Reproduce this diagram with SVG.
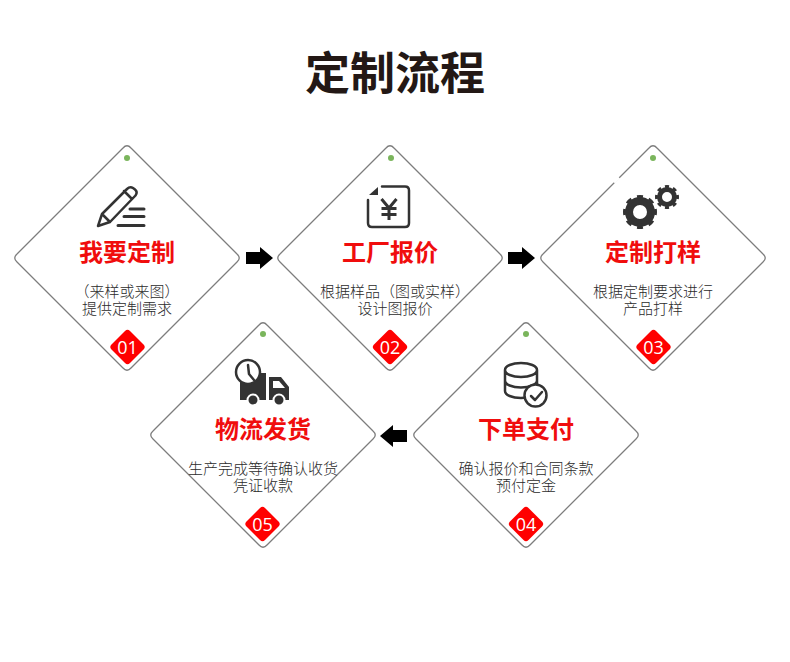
<svg xmlns="http://www.w3.org/2000/svg" width="790" height="662" viewBox="0 0 790 662">
<style>
text{font-family:"Noto Sans CJK SC","Noto Sans",sans-serif;text-anchor:middle}
.h{font-size:45px;font-weight:700;fill:#231815}
.t{font-size:24px;font-weight:700;fill:#f00d0d}
.b{font-size:15px;font-weight:300;fill:#2b2b2b}
.n{font-size:18px;fill:#fff;font-family:"Open Sans","Noto Sans",sans-serif}
.d{fill:#fff;stroke:#7d7d7d;stroke-width:1.3}
.i{fill:none;stroke:#333;stroke-width:2.500;stroke-linecap:round;stroke-linejoin:round}
.f{fill:#333}
</style>
<defs>
<path id="dia" d="M-4-110Q0-114.500 4-110L110-4Q114.500 0 110 4L4 110Q0 114.500-4 110L-110 4Q-114.500 0-110-4Z"/>
<path id="badge" d="M-2.500-16Q0-18.500 2.500-16L16-2.500Q18.500 0 16 2.500L2.500 16Q0 18.500-2.500 16L-16 2.500Q-18.500 0-16-2.500Z" fill="#f00"/>
<path id="arw" d="M0 5H14V0L27 11 14 22V17H0Z" fill="#000"/>
</defs>
<rect width="790" height="662" fill="#fff"/>
<text class="h" x="395" y="90">定制流程</text>
<g id="connectors">
<use href="#arw" x="246" y="247"/>
<use href="#arw" x="508" y="247"/>
<use href="#arw" transform="translate(407 447) rotate(180)"/>
</g>
<g id="node1">
<use href="#dia" class="d" x="127" y="258"/>
<circle cx="127" cy="158" r="3" fill="#7ab55c"/>
<path class="i" d="M98 226L110 222 135.500 195.500Q138 192 135 189.500L133 188Q130 186 127 189L102 214ZM102 214L110 222M124 191L132 199"/>
<path class="i" stroke-width="3" style="stroke-width:3" d="M130 209H144M124 216.500H144M118 225.500H144"/>
<text class="t" x="127" y="261">我要定制</text>
<text class="b"><tspan x="127" y="297">（来样或来图）</tspan><tspan x="127" y="314">提供定制需求</tspan></text>
<use href="#badge" x="127.500" y="347"/>
<text class="n" x="127.500" y="353.500">01</text>
</g>
<g id="node2">
<use href="#dia" class="d" x="390" y="258"/>
<circle cx="391" cy="158" r="3" fill="#7ab55c"/>
<path class="i" d="M382 186.500H405Q409 186.500 409 190.500V223Q409 227 405 227H372Q368 227 368 223V200"/>
<path class="f" d="M369 195L378 187V195Z"/>
<path class="i" style="stroke-width:3;stroke-linecap:butt" d="M381.500 199L389 208 396.500 199M381.500 208.500H396.500M381.500 214.500H396.500M389 208V220"/>
<text class="t" x="390" y="261">工厂报价</text>
<text class="b"><tspan x="395" y="297">根据样品（图或实样）</tspan><tspan x="395" y="314">设计图报价</tspan></text>
<use href="#badge" x="390" y="347"/>
<text class="n" x="390" y="353.500">02</text>
</g>
<g id="node3">
<use href="#dia" class="d" x="653" y="258"/>
<path d="M614 182.500L619 177.500" stroke="#fff" stroke-width="3"/>
<circle cx="653" cy="158" r="3" fill="#7ab55c"/>
<circle cx="640" cy="212" r="11" fill="none" stroke="#333" stroke-width="8"/>
<circle cx="640" cy="212" r="14.500" fill="none" stroke="#333" stroke-width="5" pathLength="80" stroke-dasharray="5 5" stroke-dashoffset="2.500"/>
<circle cx="667" cy="197" r="7.500" fill="none" stroke="#333" stroke-width="5"/>
<circle cx="667" cy="197" r="10" fill="none" stroke="#333" stroke-width="4" pathLength="80" stroke-dasharray="5 5" stroke-dashoffset="2.500"/>
<text class="t" x="653" y="261">定制打样</text>
<text class="b"><tspan x="653" y="297">根据定制要求进行</tspan><tspan x="653" y="314">产品打样</tspan></text>
<use href="#badge" x="653.500" y="347"/>
<text class="n" x="653.500" y="353.500">03</text>
</g>
<g id="node4">
<use href="#dia" class="d" x="526" y="435"/>
<circle cx="526" cy="334" r="3" fill="#7ab55c"/>
<path class="i" d="M505 370c0-4 7-7 16-7s16 3 16 7-7 7-16 7-16-3-16-7ZM505 370V391c0 4 7 7 16 7s16-3 16-7V370M505 380.500c0 4 7 7 16 7s16-3 16-7"/>
<circle cx="535.500" cy="395.500" r="11" fill="#fff" stroke="#333" stroke-width="2.500"/>
<path class="i" d="M531 396L535 400 542 392"/>
<text class="t" x="526" y="438">下单支付</text>
<text class="b"><tspan x="526" y="474">确认报价和合同条款</tspan><tspan x="526" y="491">预付定金</tspan></text>
<use href="#badge" x="526" y="524"/>
<text class="n" x="526" y="530.500">04</text>
</g>
<g id="node5">
<use href="#dia" class="d" x="263" y="435"/>
<circle cx="263" cy="334" r="3" fill="#7ab55c"/>
<path class="f" d="M240 373H266V400H240ZM269 377H281L289 387V400H269Z"/>
<path fill="#fff" d="M273 381H279L285 388H273Z"/>
<circle cx="248" cy="372" r="12" fill="#fff" stroke="#333" stroke-width="2.500"/>
<path class="i" d="M248 365L249 374 254 380"/>
<circle cx="253" cy="400" r="5.500" fill="#333" stroke="#fff" stroke-width="2"/>
<circle cx="279" cy="400" r="5.500" fill="#333" stroke="#fff" stroke-width="2"/>
<text class="t" x="263" y="438">物流发货</text>
<text class="b"><tspan x="263" y="474">生产完成等待确认收货</tspan><tspan x="263" y="491">凭证收款</tspan></text>
<use href="#badge" x="262.500" y="524"/>
<text class="n" x="262.500" y="530.500">05</text>
</g>
</svg>
